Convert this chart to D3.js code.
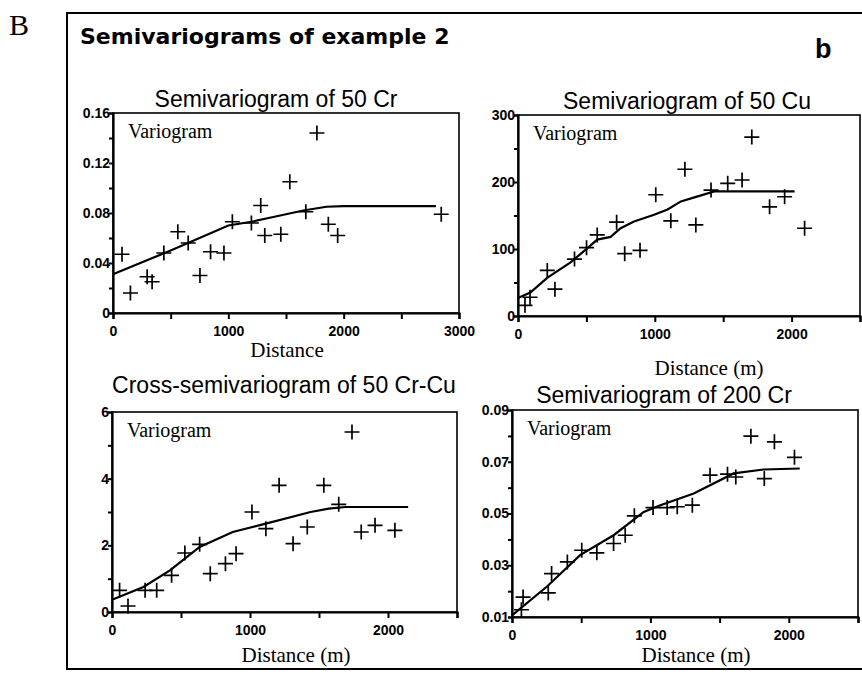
<!DOCTYPE html>
<html>
<head>
<meta charset="utf-8">
<script src="https://cdn.jsdelivr.net/npm/d3@7"></script>
<style>
  body { margin: 0; background: #fff; }
  text { fill: #000; }
</style>
</head>
<body>
<script>
"use strict";
// experimental points [distance, semivariance]
const cr50Points = [[78,0.047],[151,0.016],[296,0.029],[339,0.025],[441,0.048],[562,0.065],[652,0.056],[754,0.030],[846,0.049],[962,0.048],[1035,0.073],[1200,0.072],[1281,0.086],[1316,0.062],[1455,0.063],[1533,0.105],[1672,0.081],[1768,0.144],[1867,0.071],[1948,0.062],[2846,0.079]]
const cr50Model = [[0,0.031],[500,0.050],[1000,0.070],[1200,0.073],[1400,0.077],[1650,0.082],[1850,0.085],[2000,0.0855],[2800,0.0855]]

const cu50Points = [[51,16],[88,28],[214,68],[270,40],[413,85],[501,102],[579,121],[721,140],[780,93],[892,98],[1007,181],[1117,142],[1220,219],[1300,136],[1411,188],[1533,198],[1638,203],[1709,267],[1839,163],[1949,178],[2095,131]]
const cu50Model = [[0,27],[90,35],[213,57],[384,80],[506,101],[579,114],[677,118],[750,131],[848,141],[995,151],[1093,159],[1191,171],[1289,177],[1435,186],[2022,186]]

const crcuPoints = [[55,0.65],[116,0.18],[240,0.65],[324,0.65],[432,1.1],[528,1.77],[635,2.03],[712,1.15],[822,1.45],[899,1.75],[1014,3.0],[1115,2.5],[1211,3.8],[1312,2.05],[1415,2.55],[1535,3.8],[1643,3.23],[1739,5.4],[1806,2.4],[1906,2.6],[2050,2.45]]
const crcuModel = [[0,0.37],[228,0.75],[420,1.25],[635,1.95],[875,2.4],[1115,2.65],[1439,3.0],[1571,3.1],[1691,3.15],[2146,3.15]]

const cr200Points = [[68,0.0128],[80,0.0177],[262,0.0193],[286,0.0268],[400,0.0313],[504,0.0358],[613,0.0348],[734,0.0384],[818,0.0416],[884,0.0491],[1019,0.0523],[1121,0.0523],[1194,0.0526],[1303,0.0532],[1431,0.0648],[1557,0.0652],[1617,0.0641],[1726,0.0799],[1823,0.0635],[1896,0.0777],[2041,0.0717]]
const cr200Model = [[0,0.0106],[249,0.0216],[492,0.0339],[734,0.0416],[952,0.0506],[1072,0.0532],[1313,0.0577],[1601,0.0655],[1818,0.067],[2079,0.0674]]

const xTicks3000 = [0,500,1000,1500,2000,2500,3000]
const xTicks2500 = [0,500,1000,1500,2000,2500]
const xLabels = [0,1000,2000,3000]

const panels = [
  {title:"Semivariogram of 50 Cr", titleX:276, titleY:107, xlab:"Distance", xlabX:287, xlabY:357,
   box:[113,459,113,313], xDom:[0,3000], yDom:[0,0.16], xTicks:xTicks3000,
   yTicks:[0,0.02,0.04,0.06,0.08,0.10,0.12,0.14,0.16], yLabels:[0,0.04,0.08,0.12,0.16],
   yFmt:d => d === 0 ? "0" : d3.format(".2f")(d), pts:cr50Points, model:cr50Model},
  {title:"Semivariogram of 50 Cu", titleX:687, titleY:109, xlab:"Distance (m)", xlabX:709, xlabY:375,
   box:[518,860,115,316], xDom:[0,2500], yDom:[0,300], xTicks:xTicks2500,
   yTicks:[0,50,100,150,200,250,300], yLabels:[0,100,200,300],
   yFmt:d => String(d), pts:cu50Points, model:cu50Model},
  {title:"Cross-semivariogram of 50 Cr-Cu", titleX:284, titleY:393, xlab:"Distance (m)", xlabX:296, xlabY:662,
   box:[112,457,412,612], xDom:[0,2500], yDom:[0,6], xTicks:xTicks2500,
   yTicks:[0,1,2,3,4,5,6], yLabels:[0,2,4,6],
   yFmt:d => String(d), pts:crcuPoints, model:crcuModel},
  {title:"Semivariogram of 200 Cr", titleX:664, titleY:403, xlab:"Distance (m)", xlabX:696, xlabY:662,
   box:[512,858,410,617], xDom:[0,2500], yDom:[0.01,0.09], xTicks:xTicks2500,
   yTicks:[0.01,0.02,0.03,0.04,0.05,0.06,0.07,0.08,0.09], yLabels:[0.01,0.03,0.05,0.07,0.09],
   yFmt:d => d3.format(".2f")(d), pts:cr200Points, model:cr200Model}
]

const svg = d3.select("body").append("svg")
    .attr("width", 862)
    .attr("height", 674)

// outer frame, right side runs off the page
svg.append("rect")
    .attr("x", 67).attr("y", 13)
    .attr("width", 820).attr("height", 656)
    .attr("fill", "none").attr("stroke", "#000").attr("stroke-width", 2)

svg.append("text")
    .attr("x", 9).attr("y", 35)
    .attr("font-family", "Liberation Serif").attr("font-size", 30)
    .text("B")
svg.append("text")
    .attr("x", 80).attr("y", 44)
    .attr("font-family", "DejaVu Sans").attr("font-weight", "bold").attr("font-size", 22)
    .text("Semivariograms of example 2")
svg.append("text")
    .attr("x", 815).attr("y", 58)
    .attr("font-family", "Liberation Sans").attr("font-weight", "bold").attr("font-size", 27)
    .text("b")

panels.forEach(drawPanel)

function drawPanel(p) {
  const [x0, x1, y0, y1] = p.box
  const x = d3.scaleLinear().domain(p.xDom).range([x0, x1])
  const y = d3.scaleLinear().domain(p.yDom).range([y1, y0])
  const g = svg.append("g")

  g.append("rect")
      .attr("x", x0).attr("y", y0)
      .attr("width", x1 - x0).attr("height", y1 - y0)
      .attr("fill", "none").attr("stroke", "#000").attr("stroke-width", 1.6)

  const xAxis = g.append("g")
      .attr("transform", "translate(0," + y1 + ")")
      .call(d3.axisBottom(x).tickValues(p.xTicks).tickSize(6).tickPadding(7)
        .tickFormat(d => xLabels.includes(d) ? String(d) : ""))
  const yAxis = g.append("g")
      .attr("transform", "translate(" + x0 + ",0)")
      .call(d3.axisLeft(y).tickValues(p.yTicks).tickSize(4).tickPadding(-1)
        .tickFormat(d => p.yLabels.some(v => Math.abs(v - d) < 1e-9) ? p.yFmt(d) : ""))
  ;[xAxis, yAxis].forEach(a => {
    a.select(".domain").attr("stroke-width", 2.2)
    a.selectAll(".tick line").attr("stroke-width", 2)
    a.selectAll("text")
        .attr("font-family", "Liberation Sans").attr("font-weight", "bold")
        .attr("font-size", 14).attr("fill", "#000")
  })

  g.append("text")
      .attr("x", p.titleX).attr("y", p.titleY)
      .attr("text-anchor", "middle")
      .attr("font-family", "Liberation Sans").attr("font-size", 23)
      .text(p.title)
  g.append("text")
      .attr("x", x0 + 15).attr("y", y0 + 25)
      .attr("font-family", "Liberation Serif").attr("font-size", 20)
      .text("Variogram")
  g.append("text")
      .attr("x", p.xlabX).attr("y", p.xlabY)
      .attr("text-anchor", "middle")
      .attr("font-family", "Liberation Serif").attr("font-size", 21)
      .text(p.xlab)

  const line = d3.line()
      .x(d => x(d[0]))
      .y(d => y(d[1]))
  g.append("path")
      .datum(p.model)
      .attr("d", line)
      .attr("fill", "none")
      .attr("stroke", "#000")
      .attr("stroke-width", 2.2)

  const arm = 7.5
  g.selectAll(".cross")
      .data(p.pts)
      .enter()
      .append("path")
        .attr("class", "cross")
        .attr("d", d => {
          const cx = x(d[0]), cy = y(d[1])
          return "M" + (cx - arm) + "," + cy + "H" + (cx + arm) +
                 "M" + cx + "," + (cy - arm) + "V" + (cy + arm)
        })
        .attr("stroke", "#000")
        .attr("stroke-width", 1.7)
        .attr("fill", "none")
}
</script>
</body>
</html>
